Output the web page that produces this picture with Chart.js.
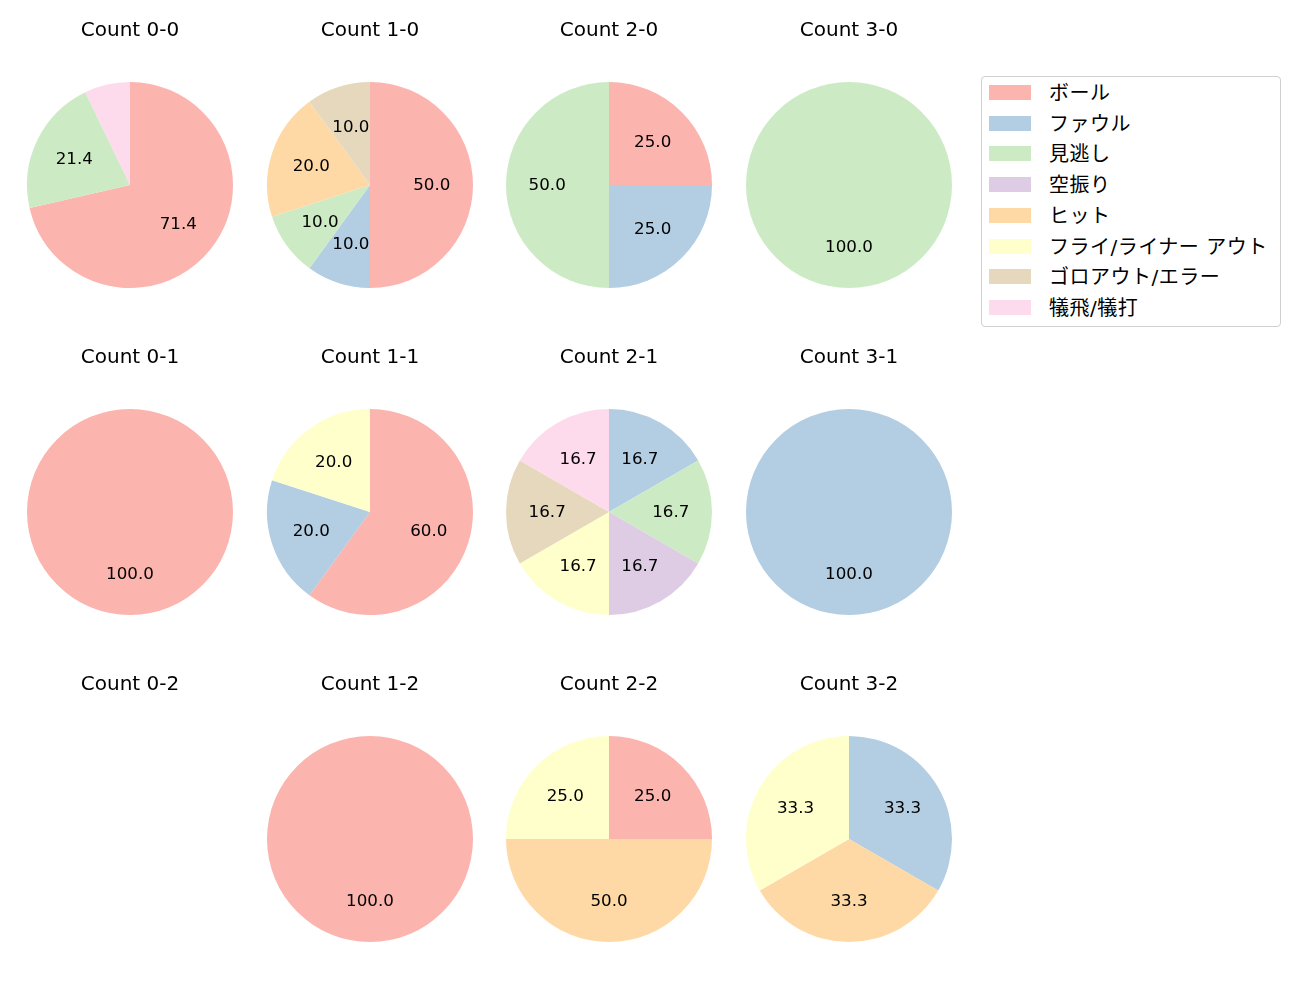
<!DOCTYPE html>
<html>
<head>
<meta charset="utf-8">
<script src="https://cdn.jsdelivr.net/npm/chart.js@4"></script>
<style>
  body { margin: 0; background: #fff; }
  #wrap { position: relative; width: 1300px; height: 1000px; overflow: hidden; }
  .cell { position: absolute; width: 220px; height: 278px; }
  #legend {
    position: absolute; left: 981px; top: 76px; width: 300px; height: 251px;
    border: 1px solid #d0d0d0; border-radius: 4px; box-sizing: border-box;
    font-family: "DejaVu Sans", "Noto Sans CJK JP", sans-serif; font-size: 20px; color: #000;
  }
  .item { position: absolute; left: 0; height: 20px; }
  .patch { position: absolute; left: 7px; top: 1px; width: 42px; height: 15px; }
  .lbl { position: absolute; left: 67px; top: -4px; white-space: nowrap; line-height: 26px; letter-spacing: 0.5px; }
</style>
</head>
<body>
<div id="wrap"><div id="legend"></div></div>
<script>
const categories = ["ボール", "ファウル", "見逃し", "空振り", "ヒット", "フライ/ライナー アウト", "ゴロアウト/エラー", "犠飛/犠打"];
const colors = ["#fbb4ae", "#b3cde3", "#ccebc5", "#decbe4", "#fed9a6", "#ffffcc", "#e5d8bd", "#fddaec"];

// pitch counts per ball-strike count, in category order
const count00 = [10, 0, 3, 0, 0, 0, 0, 1];
const count10 = [5, 1, 1, 0, 2, 0, 1, 0];
const count20 = [1, 1, 2, 0, 0, 0, 0, 0];
const count30 = [0, 0, 1, 0, 0, 0, 0, 0];
const count01 = [1, 0, 0, 0, 0, 0, 0, 0];
const count11 = [3, 1, 0, 0, 0, 1, 0, 0];
const count21 = [0, 1, 1, 1, 0, 1, 1, 1];
const count31 = [0, 1, 0, 0, 0, 0, 0, 0];
const count02 = [0, 0, 0, 0, 0, 0, 0, 0];
const count12 = [1, 0, 0, 0, 0, 0, 0, 0];
const count22 = [1, 0, 0, 0, 2, 1, 0, 0];
const count32 = [0, 1, 0, 0, 1, 1, 0, 0];

const titles = ["Count 0-0", "Count 1-0", "Count 2-0", "Count 3-0",
                "Count 0-1", "Count 1-1", "Count 2-1", "Count 3-1",
                "Count 0-2", "Count 1-2", "Count 2-2", "Count 3-2"];
const values = [count00, count10, count20, count30,
                count01, count11, count21, count31,
                count02, count12, count22, count32];

const colX = [130, 370, 609, 849];
const rowY = [185, 512, 839];

// percentage labels like matplotlib autopct
const pctLabels = {
  id: 'pctLabels',
  afterDatasetsDraw(chart) {
    const ds = chart.data.datasets[0];
    const total = ds.data.reduce((a, b) => a + b, 0);
    if (!total) return;
    const ctx = chart.ctx;
    ctx.save();
    ctx.font = '16.7px "DejaVu Sans", "Noto Sans CJK JP", sans-serif';
    ctx.fillStyle = '#000';
    ctx.textAlign = 'center';
    ctx.textBaseline = 'middle';
    chart.getDatasetMeta(0).data.forEach((arc, i) => {
      const v = ds.data[i];
      const p = v / total * 100;
      if (p < 10) return;
      const a = (arc.startAngle + arc.endAngle) / 2;
      const r = arc.outerRadius * 0.6;
      ctx.fillText(p.toFixed(1), arc.x + Math.cos(a) * r, arc.y + Math.sin(a) * r + 1);
    });
    ctx.restore();
  }
};

const wrap = document.getElementById('wrap');
titles.forEach((t, k) => {
  const cx = colX[k % 4], cy = rowY[Math.floor(k / 4)];
  const div = document.createElement('div');
  div.className = 'cell';
  div.style.left = (cx - 110) + 'px';
  div.style.top = (cy - 175) + 'px';
  const cv = document.createElement('canvas');
  div.appendChild(cv);
  wrap.appendChild(div);
  new Chart(cv, {
    type: 'pie',
    data: {
      labels: categories,
      datasets: [{ data: values[k], backgroundColor: colors, borderWidth: 0 }]
    },
    options: {
      responsive: true,
      maintainAspectRatio: false,
      animation: false,
      events: [],
      layout: { padding: 0 },
      plugins: {
        legend: { display: false },
        tooltip: { enabled: false },
        title: {
          display: true,
          text: t,
          color: '#000',
          font: { family: '"DejaVu Sans", "Noto Sans CJK JP", sans-serif', size: 20, weight: 'normal', lineHeight: 1.2 },
          padding: { top: 9, bottom: 39 }
        }
      }
    },
    plugins: [pctLabels]
  });
});

// legend
const legend = document.getElementById('legend');
categories.forEach((c, i) => {
  const it = document.createElement('div');
  it.className = 'item';
  it.style.top = (7 + i * 30.7) + 'px';
  it.innerHTML = '<div class="patch" style="background:' + colors[i] + '"></div><div class="lbl">' + c + '</div>';
  legend.appendChild(it);
});
</script>
</body>
</html>
